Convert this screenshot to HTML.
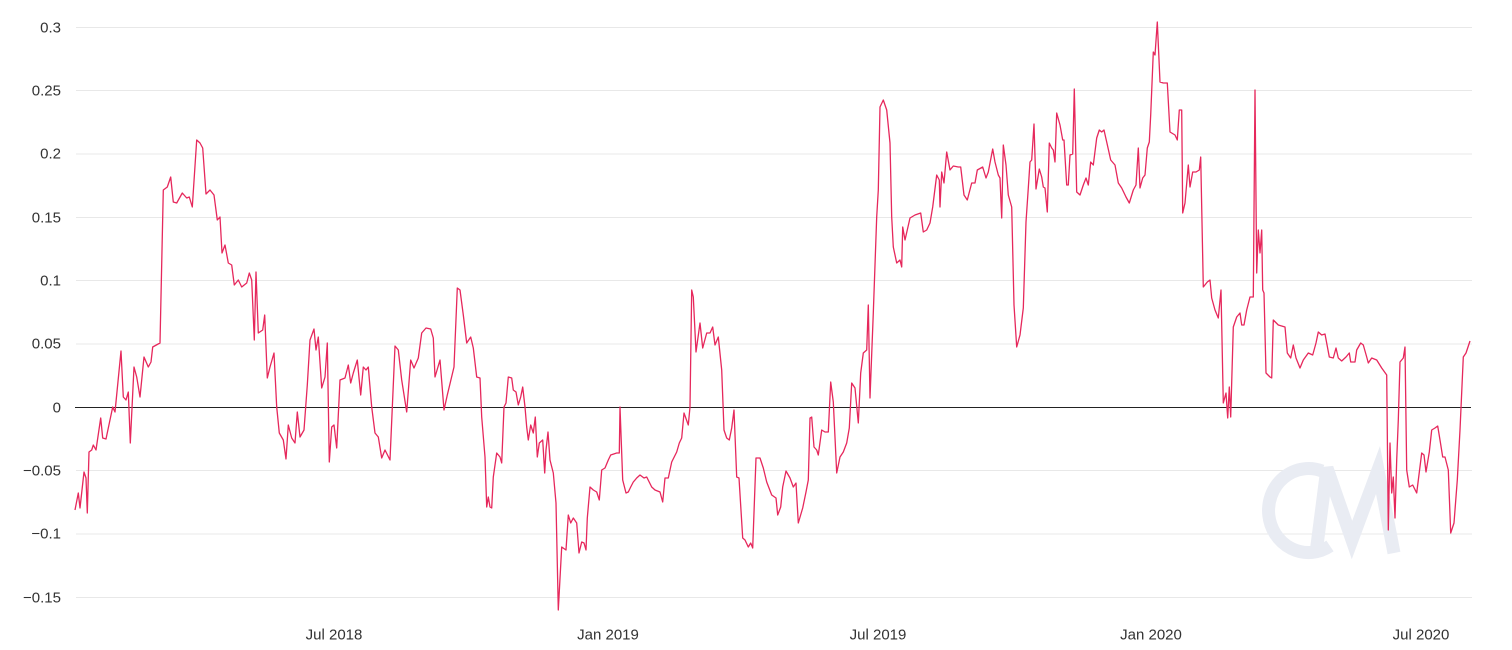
<!DOCTYPE html>
<html>
<head>
<meta charset="utf-8">
<style>
  html, body { margin: 0; padding: 0; background: #ffffff; }
  svg { display: block; }
  text { font-family: "Liberation Sans", sans-serif; font-size: 15px; fill: #333333; }
</style>
</head>
<body>
<svg width="1512" height="650" viewBox="0 0 1512 650" xmlns="http://www.w3.org/2000/svg">
  <rect x="0" y="0" width="1512" height="650" fill="#ffffff"/>

  <!-- gridlines -->
  <g stroke="#e8e8e8" stroke-width="1">
    <line x1="76" y1="27.5" x2="1472" y2="27.5"/>
    <line x1="76" y1="90.5" x2="1472" y2="90.5"/>
    <line x1="76" y1="154" x2="1472" y2="154"/>
    <line x1="76" y1="217.5" x2="1472" y2="217.5"/>
    <line x1="76" y1="280.5" x2="1472" y2="280.5"/>
    <line x1="76" y1="344" x2="1472" y2="344"/>
    <line x1="76" y1="470.5" x2="1472" y2="470.5"/>
    <line x1="76" y1="534" x2="1472" y2="534"/>
    <line x1="76" y1="597.5" x2="1472" y2="597.5"/>
  </g>

  <!-- watermark -->
  <g fill="none" stroke="#e9ecf3" stroke-width="13" stroke-linecap="butt" stroke-linejoin="miter">
    <path d="M 1322 471 A 40 42 0 1 0 1330 546"/>
    <polyline points="1316,553 1327,468 1352,540 1378,470 1394,553"/>
  </g>

  <!-- zero line -->
  <line x1="75" y1="407.5" x2="1471" y2="407.5" stroke="#222222" stroke-width="1"/>

  <!-- y labels -->
  <g text-anchor="end" dominant-baseline="central">
    <text x="61" y="28">0.3</text>
    <text x="61" y="91">0.25</text>
    <text x="61" y="154">0.2</text>
    <text x="61" y="218">0.15</text>
    <text x="61" y="281">0.1</text>
    <text x="61" y="344">0.05</text>
    <text x="61" y="408">0</text>
    <text x="61" y="471">−0.05</text>
    <text x="61" y="534">−0.1</text>
    <text x="61" y="598">−0.15</text>
  </g>

  <!-- x labels -->
  <g text-anchor="middle" dominant-baseline="central">
    <text x="334" y="635">Jul 2018</text>
    <text x="608" y="635">Jan 2019</text>
    <text x="878" y="635">Jul 2019</text>
    <text x="1151" y="635">Jan 2020</text>
    <text x="1421" y="635">Jul 2020</text>
  </g>

  <!-- series -->
  <polyline fill="none" stroke="#e6285c" stroke-width="1.3" stroke-linejoin="round" points="
75,510 78.3,493 80,508 84,472 86,478 87.3,513 89,452 91.7,450 93.3,445 96,450 100.7,418 102.7,438 106,439 112.7,407 115,412 121,351 123.3,397 126,400 128.3,392 130.3,443 134,367 136.7,377 140,397 144,357 148.3,367 151,362 152.7,347 160,343 163.3,190 167.3,187 170.7,177 173.3,202 176.7,203 182.3,193 186.7,198 189.3,197 192.3,207 196.7,140 200,143 202.7,148 206,194 210,190 214,195 217.3,220 220,217 222,253 225,245 228.3,263 231.7,265 234.3,285 238.3,280 241.7,287 246.7,283 249.3,273 251.7,280 254.3,340 256,272 258.3,333 262.7,330 264.7,315 267.3,378 270,367 274,353 276.7,407 279.3,433 283.3,440 286,459 288.3,425 291.7,438 295,443 297.3,412 300,437 304,430 307.3,385 310,340
314,329 316,350 318.3,337 321.7,388 325,377 327.3,343 329.3,462 331.7,427 334,425 336.7,448 340,380 345,378 348.3,365 350.7,383 353.3,373 357.3,360 360.7,395 363.3,367 366,370 368.3,367 371.7,407 375,433 378.3,437 381.7,458 385,450 390,460 395,346 398.3,350 401.7,380 406.7,412 410.7,360 414,368 418.3,358 421.7,333 426,328 430.7,329 433.3,338 435,377 440,360 444,410 447.3,395 454,367 457.3,288 460,290 463.3,315 466.7,343 470.7,337 473.3,348 476.7,377 480,378
481.7,417 485,457 486.7,507 488.3,497 490,507 491.7,508 493.3,477 496.7,453 500,457 501.7,463 504,407 506,403 508.3,377 511.7,378 513.3,390 516,392 518.3,405 520.7,397 522.7,387 525,407 526.7,427 528.3,440 530.7,425 533.3,433 535.3,417 537.3,457 539.3,443 542.7,440 544.7,473 546,450 548,432 550,460 553.3,473 556,503 558.3,610 561.7,547 566,550 568.3,515 570.7,523 573.3,518 576.7,523 579,553 581.7,542 584,543 586,550 587.3,518 590,487 593.3,490 596.7,492 599.3,500 601.7,470 605,468 608.3,460 610.7,455 616.7,453 619.3,453 620,407 622.7,480 626,493 628.3,492 630.7,487 633.3,482 636.7,478 640,475 644,478 646.7,477 651.7,487 655,490 660,492 662.7,502 665,478 668.3,478 671.7,462 676.7,452 679.3,443 681.7,438 684,413 688.3,425 690,407 691.7,290 693.3,297 696,352 700,323 702.7,348 706.7,333
710,333 712.7,327 715,345 718.3,337 721.7,370 724,430 726.7,438 729.3,440 731.7,428 734,410 736.7,477 739,478 742.7,538 745,540 748.3,547 750.7,543 752.7,548 756,458 760,458 763.3,468 766.7,482 771.7,495 776,498 777.7,515 780.7,507 782.7,487 786,471 790,478 793.3,487 796,483 798.3,523 802.7,508 806,492 808.3,480 810,418 811.7,417 814,447 816.7,450 818.3,455 821.7,430 825,432 828.3,432 830.7,382 833.3,402 836.7,473 840,457 843.3,452 846.7,443 849.3,428 851.7,383 855,388 858.3,423 860.7,373 863.3,353 866.7,350 868.3,305 870,398 873.3,313 876.7,217 878.3,190 880,107 883.3,100 886.7,110 890,143 891.7,217 893.3,247 896.7,263 900,260 901.7,267 902.7,227 905,240 910,218 915,215 920.7,213 923.3,232 926.7,230 930,223 932.7,207 936.7,175 939.3,180 940,207 941.7,172
944,183 946.7,152 950,170 953.3,166 958.3,167 960.7,167 964,195 967.3,200 971.7,183 975,183 977.3,170 982.7,167 986,178 988.3,172 992.7,149 995,162 998.3,175 1000,178 1001.7,218 1003.3,145 1006,165 1008.3,195 1011.7,207 1014,305 1016.7,347 1020,335 1023.3,308 1026,222 1028.3,188 1030,162 1031.7,160 1034,124 1036,189 1039.3,169 1041.7,177 1043.3,187 1045,188 1047.3,212 1049.3,143 1051.7,148 1053.3,150 1055,162 1056.7,113 1060,125 1062.7,140 1064,140 1066.7,185 1068.3,185 1070,155 1072.7,154 1074.3,89 1076.7,192 1080,195 1083.3,185 1086,178 1088.3,185 1090.7,162 1093.3,165 1096.7,138 1099.3,130 1101.7,132 1104,130 1106.7,142 1110.7,160 1115,165 1118.3,183 1121.7,188 1126,197 1129.3,203 1133.3,190 1136,185 1138.3,148 1140,188 1142.7,178 1145,175 1147.3,148 1149.3,142 1150.7,115 1153.3,52 1155,55 1157.3,22 1160,82 1163.3,83 1167.3,83 1170,132 1175,135 1177.3,140 1179.3,110 1181.7,110
1182.7,213 1185,203 1188.3,165 1190,187 1192.7,172 1196,172 1199.3,170 1200.7,157 1203.3,287 1207.3,282 1210,280 1211.7,298 1215,310 1218.3,318 1221,290 1223.3,403 1226,393 1227.7,418 1229.3,387 1230.7,417 1233.3,327 1236.7,317 1240,313 1241.7,325 1244,325 1246.7,310 1250,297 1253.3,297 1255,90 1256.7,273 1258.3,230 1260,253 1261.7,230 1262.7,290 1264,293 1266,373 1270,377 1271.7,378 1273.3,320 1278.3,325 1285,327 1287.3,353 1290.7,358 1293.3,345 1296,358 1300,368 1303.3,360 1308.3,353 1312.7,355 1316,343 1318.3,332 1321.7,335 1325,334 1329.3,357 1333.3,358 1336,348 1338.3,358 1341.7,361 1346,357 1349.3,353 1350.7,362 1355,362 1356.7,350 1360.7,343 1363.3,345 1366.7,357 1368.3,363 1371.7,358 1376.7,360 1381.7,368 1386.7,375
1388.3,530 1390,443 1391.7,493 1393.3,477 1395,518 1396.7,460 1398.3,420 1400,362 1403.3,358 1405,347 1406.7,470 1409.3,487 1412.7,485 1416.7,493 1421.7,453 1424,455 1426,472 1429.3,452 1431.7,430 1435,428 1437.7,426 1440,440 1442.7,457 1445,457 1448.3,470 1450.7,533 1454,523 1457.3,480 1460,430 1463.3,357 1466,353 1470,341"/>
</svg>
</body>
</html>
